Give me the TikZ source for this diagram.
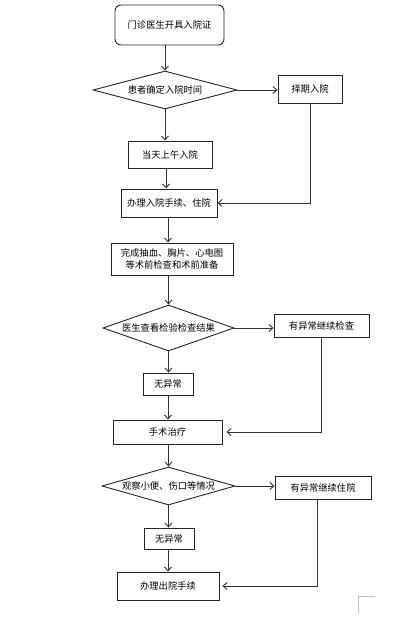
\documentclass[tikz,border=0pt]{standalone}
\usepackage{fontspec}
\newfontfamily\cjk{Noto Sans CJK SC}
\usetikzlibrary{shapes.geometric,arrows.meta}
\begin{document}
\begin{tikzpicture}[x=1pt,y=-1pt,
  every node/.style={font=\cjk\fontsize{9.3}{12}\selectfont, text=black},
  box/.style={draw=black!85, line width=0.9pt, inner sep=0pt, align=center},
  dia/.style={draw=black!85, line width=0.9pt, diamond, aspect=3.5, inner sep=0pt, align=center},
  arr/.style={draw=black!80, line width=0.9pt, -{Straight Barb[length=4pt,width=7pt]}},
  ln/.style={draw=black!80, line width=0.9pt}]
\fill[white] (0,0) rectangle (406,630);
\useasboundingbox (0,0) rectangle (406,630);

\node[box, rounded corners=6pt, minimum width=109pt, minimum height=40pt] (b1) at (169.5,25) {门诊医生开具入院证};
\node[dia, minimum width=144pt, minimum height=38pt] (d1) at (165,90) {患者确定入院时间};
\node[box, minimum width=64pt, minimum height=28pt] (zq) at (310,89) {择期入院};
\node[box, minimum width=84pt, minimum height=27pt] (b2) at (170,154.5) {当天上午入院};
\node[box, minimum width=96pt, minimum height=28pt] (b3) at (169,203) {办理入院手续、住院};
\node[box, minimum width=122pt, minimum height=32pt] (b4) at (172,259) {完成抽血、胸片、心电图\\等术前检查和术前准备};
\node[dia, minimum width=131pt, minimum height=46pt] (d2) at (168.5,328) {医生查看检验检查结果};
\node[box, minimum width=95pt, minimum height=23pt] (e1) at (321.5,325.5) {有异常继续检查};
\node[box, minimum width=50pt, minimum height=22pt] (n1) at (168,384) {无异常};
\node[box, minimum width=109pt, minimum height=24pt] (b5) at (167.5,432) {手术治疗};
\node[dia, minimum width=133pt, minimum height=38pt] (d3) at (168.5,486) {观察小便、伤口等情况};
\node[box, minimum width=96pt, minimum height=23pt] (e2) at (323,487.5) {有异常继续住院};
\node[box, minimum width=50pt, minimum height=21pt] (n2) at (169,538.5) {无异常};
\node[box, minimum width=102pt, minimum height=28pt] (b6) at (168,586) {办理出院手续};

\draw[arr] (d1.north |- b1.south) -- (d1.north);
\draw[arr] (d1.east) -- (d1.east -| zq.west);
\draw[arr] (d1.south) -- (d1.south |- b2.north);
\draw[arr] (b2.south -| 166,0) -- (b3.north -| 166,0);
\draw[arr] (b3.south -| 168,0) -- (b4.north -| 168,0);
\draw[arr] (b4.south -| d2.north) -- (d2.north);
\draw[arr] (zq.south) |- (b3.east);
\draw[arr] (d2.east) -- (d2.east -| e1.west);
\draw[arr] (d2.south) -- (d2.south |- n1.north);
\draw[arr] (n1.south) -- (n1.south |- b5.north);
\draw[arr] (e1.south) |- ([xshift=4pt]b5.east);
\draw[arr] (b5.south -| d3.north) -- (d3.north);
\draw[arr] (d3.east) -- (d3.east -| e2.west);
\draw[arr] (d3.south) -- (d3.south |- n2.north);
\draw[arr] (n2.south -| 168,0) -- (b6.north -| 168,0);
\draw[arr] (e2.south -| 317,0) |- ([xshift=3pt]b6.east);

\coordinate (cm) at (358,596);
\draw[black!25, line width=0.6pt] (375,596) -- (cm) -- (358,613);
\end{tikzpicture}
\end{document}
